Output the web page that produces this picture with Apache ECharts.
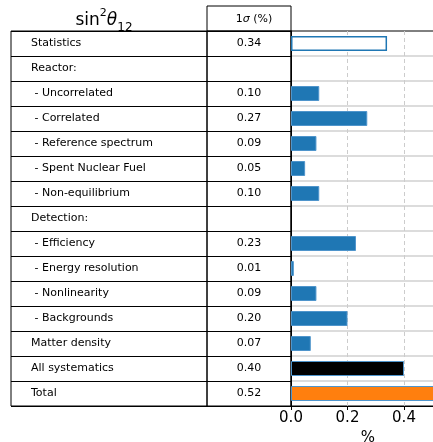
<!DOCTYPE html>
<html><head><meta charset="utf-8">
<script src="https://cdn.jsdelivr.net/npm/echarts@6/dist/echarts.min.js"></script>
<style>html,body{margin:0;padding:0;background:#fff}#c{width:433px;height:442px}</style>
</head><body><div id="c"></div>
<script>
const categories = ['Statistics','Reactor:',' - Uncorrelated',' - Correlated',' - Reference spectrum',' - Spent Nuclear Fuel',' - Non-equilibrium','Detection:',' - Efficiency',' - Energy resolution',' - Nonlinearity',' - Backgrounds','Matter density','All systematics','Total'];
const values = [0.34, null, 0.10, 0.27, 0.09, 0.05, 0.10, null, 0.23, 0.01, 0.09, 0.20, 0.07, 0.40, 0.52];
const valueLabels = ['0.34','','0.10','0.27','0.09','0.05','0.10','','0.23','0.01','0.09','0.20','0.07','0.40','0.52'];
const xTicks = [0.0, 0.2, 0.4];
const headerLabel = '1{i|σ} (%)';
const xName = '%';

const FONT = 'DejaVu Sans';
const BLUE = '#1f77b4', ORANGE = '#ff7f0e', EDGE = '#4f95cc';

function styleFor(name){
  if (name === 'Statistics') return {color:'#ffffff', borderColor: BLUE, borderWidth: 1.5};
  if (name === 'All systematics') return {color:'#000000', borderColor: EDGE, borderWidth: 1};
  if (name === 'Total') return {color: ORANGE, borderColor: EDGE, borderWidth: 1};
  return {color: BLUE, borderColor: EDGE, borderWidth: 1};
}

const chart = echarts.init(document.getElementById('c'), null, {renderer:'canvas'});
const rowH = 25, tableTop = 31;
const tableH = rowH * categories.length;
const pxPerUnit = 282.5;
const plotW = 154;

const tableYAxis = (idx, labels, align, margin) => ({
  gridIndex: idx, type:'category', inverse:true, data: labels,
  axisLine:{show:false}, axisTick:{show:false},
  axisLabel:{inside:true, align: align, margin: margin, fontFamily: FONT, fontSize: 11, color:'#000'},
  splitLine:{show:true, lineStyle:{color:'#000', width:1}}
});

chart.setOption({
  animation:false,
  title:[
    {text:'sin{sup|2}{th|θ}{sub|12}', left:99, top:3, textAlign:'center',
     textStyle:{fontFamily:FONT, fontSize:17, fontWeight:'normal', color:'#000', lineHeight:26,
       rich:{
         sup:{fontFamily:FONT, fontSize:11, verticalAlign:'top', lineHeight:14, color:'#000'},
         th:{fontFamily:FONT, fontSize:17, fontStyle:'italic', color:'#000', lineHeight:26},
         sub:{fontFamily:FONT, fontSize:12, verticalAlign:'bottom', lineHeight:10, color:'#000'}
       }}},
    {text: headerLabel, left:249, top:9, textAlign:'center',
     textStyle:{fontFamily:FONT, fontSize:11, fontWeight:'normal', color:'#000',
       rich:{i:{fontFamily:FONT, fontSize:11, fontStyle:'italic', color:'#000'}}}}
  ],
  grid:[
    {left:11, top:tableTop, width:196, height:tableH, show:true, borderColor:'#000', borderWidth:1, outerBoundsMode:'none'},
    {left:207, top:tableTop, width:84, height:tableH, show:true, borderColor:'#000', borderWidth:1, outerBoundsMode:'none'},
    {left:207, top:6, width:84, height:25, show:true, borderColor:'#000', borderWidth:1, outerBoundsMode:'none'},
    {left:291, top:tableTop, width:plotW, height:tableH, show:true, borderColor:'#000', borderWidth:1, outerBoundsMode:'none', containLabel:false}
  ],
  xAxis:[
    {gridIndex:0, type:'value', show:false},
    {gridIndex:1, type:'value', show:false},
    {gridIndex:2, type:'value', show:false},
    {gridIndex:3, type:'value', min:0, max: plotW/pxPerUnit, interval:0.2,
     axisLine:{show:true, lineStyle:{color:'#000', width:1}},
     axisTick:{show:true, length:4, lineStyle:{color:'#000'}},
     axisLabel:{margin:5, fontFamily:FONT, fontSize:15, color:'#000', showMaxLabel:false,
       formatter: v => (xTicks.some(t => Math.abs(t - v) < 1e-9) ? v.toFixed(1) : '')},
     splitLine:{show:true, showMinLine:false, lineStyle:{color:'#cccccc', type:[4,3], width:1}},
     name: xName, nameLocation:'middle', nameGap:23,
     nameTextStyle:{fontFamily:FONT, fontSize:15, color:'#000'}}
  ],
  yAxis:[
    tableYAxis(0, categories, 'left', 20),
    tableYAxis(1, valueLabels, 'center', 42),
    {gridIndex:2, type:'category', show:false, data:['h']},
    {gridIndex:3, type:'category', inverse:true, data: categories,
     axisLine:{show:true, lineStyle:{color:'#000', width:1}}, axisTick:{show:false}, axisLabel:{show:false},
     splitLine:{show:true, showMinLine:false, showMaxLine:false, lineStyle:{color:'#d0d0d0', width:1.5}}}
  ],
  series:[
    {type:'bar', xAxisIndex:3, yAxisIndex:3, barWidth:15, clip:true,
     data: values.map((v,i) => v === null ? null : {value: v, itemStyle: styleFor(categories[i])})}
  ]
});
</script></body></html>
